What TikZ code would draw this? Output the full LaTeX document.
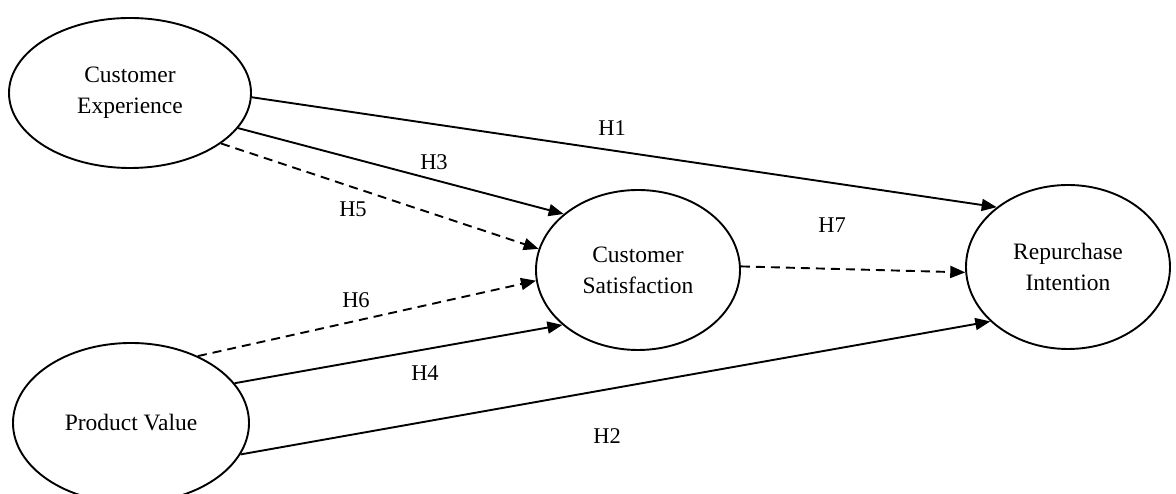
\documentclass[tikz,border=0pt]{standalone}
\usepackage{fontspec}
\setmainfont{Liberation Serif}
\usetikzlibrary{shapes.geometric,arrows.meta}
\begin{document}
\begin{tikzpicture}[x=1pt,y=1pt,
  construct/.style={ellipse,draw,line width=1.9pt,inner sep=0pt,align=center,
    font=\fontsize{23.5}{31}\selectfont},
  path1/.style={line width=1.9pt,-{Triangle[length=15pt,width=12pt]}},
  dpath/.style={path1,dash pattern=on 9pt off 6pt},
  hlab/.style={font=\fontsize{22.5}{26}\selectfont,inner sep=0pt}]
\useasboundingbox (0,0) rectangle (1176,494);
\node[construct,minimum width=242pt,minimum height=150pt] (ce) at (130,401) {Customer\\Experience};
\node[construct,minimum width=236pt,minimum height=160pt] (pv) at (131,71) {Product Value};
\node[construct,minimum width=204pt,minimum height=160pt] (cs) at (638,224) {Customer\\Satisfaction};
\node[construct,minimum width=204pt,minimum height=164pt] (ri) at (1068,227) {Repurchase\\Intention};
\draw[path1] (ce.-2.9) -- (ri.140.3);
\draw[path1] (ce.-18.6) -- (cs.143.1);
\draw[dpath] (ce.-29.5) -- (cs.168);
\draw[dpath] (pv.45.9) -- (cs.186.8);
\draw[path1] (pv.21.5) -- (cs.216.4);
\draw[path1] (pv.-16.2) -- (ri.215.5);
\draw[dpath] (cs.2.8) -- (ri.183.4);
\node[hlab] (h1) at (612,366) {H1};
\node[hlab] (h3) at (434,332) {H3};
\node[hlab] (h5) at (353,285) {H5};
\node[hlab] (h7) at (832,269) {H7};
\node[hlab] (h6) at (356,194) {H6};
\node[hlab] (h4) at (425,121) {H4};
\node[hlab] (h2) at (607,58) {H2};
\end{tikzpicture}
\end{document}
